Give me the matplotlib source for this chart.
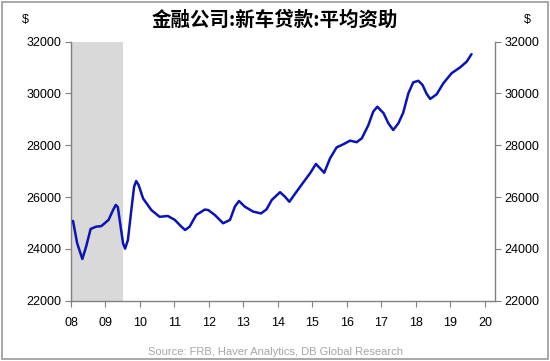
import numpy as np
import matplotlib.pyplot as plt
from matplotlib.patches import Rectangle

plt.rcParams['font.family'] = ['Liberation Sans', 'DejaVu Sans']

# 数据
years = [2008.06, 2008.18, 2008.33, 2008.44, 2008.57, 2008.73, 2008.88, 2009.09, 2009.22,
         2009.30, 2009.36, 2009.44, 2009.51, 2009.57, 2009.65, 2009.75, 2009.83, 2009.89,
         2009.96, 2010.09, 2010.33, 2010.57, 2010.81, 2011.01, 2011.20, 2011.31, 2011.44,
         2011.63, 2011.88, 2011.98, 2012.17, 2012.41, 2012.61, 2012.75, 2012.87, 2013.04,
         2013.28, 2013.51, 2013.67, 2013.82, 2014.06, 2014.20, 2014.33, 2014.49, 2014.73,
         2014.93, 2015.10, 2015.22, 2015.34, 2015.51, 2015.70, 2015.88, 2016.09, 2016.28,
         2016.43, 2016.62, 2016.76, 2016.88, 2017.06, 2017.20, 2017.34, 2017.49, 2017.63,
         2017.78, 2017.92, 2018.07, 2018.19, 2018.30, 2018.41, 2018.60, 2018.79, 2019.03,
         2019.28, 2019.47, 2019.61]
avg_loan = [25080, 24220, 23610, 24090, 24770, 24860, 24880, 25120, 25500,
            25700, 25610, 24860, 24220, 24010, 24340, 25500, 26400, 26620,
            26470, 25950, 25500, 25240, 25270, 25120, 24860, 24730, 24860,
            25310, 25520, 25500, 25310, 24990, 25120, 25630, 25850, 25630,
            25440, 25370, 25530, 25890, 26190, 26020, 25820, 26120, 26560,
            26920, 27280, 27110, 26940, 27500, 27920, 28030, 28180, 28120,
            28270, 28780, 29300, 29490, 29240, 28850, 28590, 28850, 29260,
            30010, 30430, 30490, 30330, 30010, 29790, 29970, 30390, 30780,
            31010, 31230, 31520]
recession = (2008.0, 2009.5)
xticks = list(range(2008, 2021))
xlabels = ['%02d' % (y % 100) for y in xticks]
yticks = [22000, 24000, 26000, 28000, 30000, 32000]

fig = plt.figure(figsize=(5.5, 3.61), dpi=100)
ax = fig.add_axes([0.129, 0.167, 0.771, 0.7175])

ax.axvspan(recession[0], recession[1], color='#d9d9d9', lw=0, zorder=0)
ax.plot(years, avg_loan, color='#0a14b4', lw=1.8, zorder=3,
        solid_joinstyle='round', solid_capstyle='round')

ax.set_xlim(2008, 2020.29)
ax.set_ylim(22000, 32000)
ax.set_xticks(xticks)
ax.set_xticklabels(xlabels)
ax.set_yticks(yticks)
ax.tick_params(axis='both', labelsize=9, color='#808080', length=4, width=0.8)
ax.tick_params(axis='x', pad=8)
ax.tick_params(axis='y', labelleft=True, labelright=True, left=True, right=True, pad=3)
for s in ['left', 'right', 'bottom']:
    ax.spines[s].set_color('#808080')
    ax.spines[s].set_linewidth(1.0)
ax.spines['top'].set_visible(False)

fig.text(0.5, 0.943, '金融公司:新车贷款:平均资助', ha='center', va='center', fontsize=14,
         fontweight='bold', family=['Noto Sans CJK SC', 'DejaVu Sans'])
fig.text(0.046, 0.945, '$', ha='center', va='center', fontsize=9)
fig.text(0.958, 0.945, '$', ha='center', va='center', fontsize=9)
fig.text(0.5, 0.025, 'Source: FRB, Haver Analytics, DB Global Research', ha='center',
         va='center', fontsize=8, color='#a6a6a6')

# 外框
fig.patches.append(Rectangle((0.004, 0.006), 0.992, 0.988, transform=fig.transFigure,
                             fill=False, ec='#9a9a9a', lw=1.2))

fig.savefig('out.png', dpi=100)
